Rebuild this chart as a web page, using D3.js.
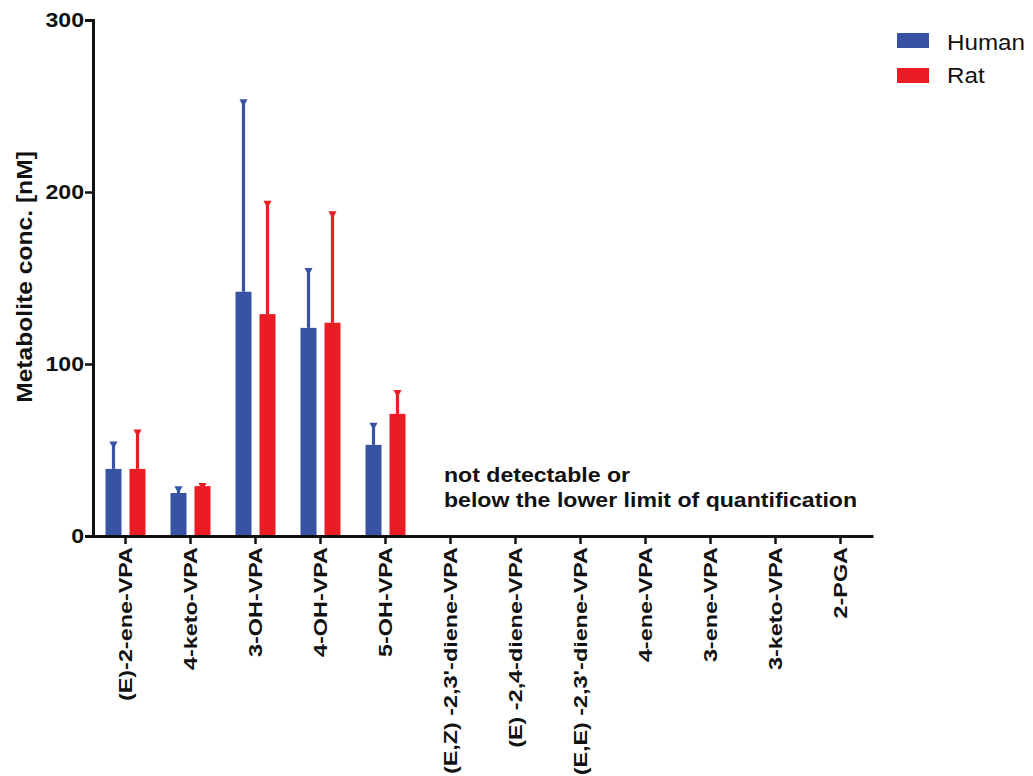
<!DOCTYPE html>
<html>
<head>
<meta charset="utf-8">
<script src="https://cdn.jsdelivr.net/npm/d3@7"></script>
<style>
  html, body { margin: 0; padding: 0; background: #fff; }
  svg { display: block; font-family: "Liberation Sans", Arial, sans-serif; }
</style>
</head>
<body>
<svg id="chart" width="1033" height="776"></svg>
<script>
// Metabolite categories (x axis)
const categories = [
  "(E)-2-ene-VPA", "4-keto-VPA", "3-OH-VPA", "4-OH-VPA", "5-OH-VPA",
  "(E,Z) -2,3'-diene-VPA", "(E) -2,4-diene-VPA", "(E,E) -2,3'-diene-VPA",
  "4-ene-VPA", "3-ene-VPA", "3-keto-VPA", "2-PGA"
];
const series = ["Human", "Rat"];
// Mean concentrations [nM]; null = not detectable / below LLOQ
const humanMean = [39, 25, 142, 121, 53, null, null, null, null, null, null, null];
const ratMean   = [39, 29, 129, 124, 71, null, null, null, null, null, null, null];
// Upper error bar ends (mean + SD) [nM]
const humanUpper = [54, 28, 253, 155, 65, null, null, null, null, null, null, null];
const ratUpper   = [61, 30, 194, 188, 84, null, null, null, null, null, null, null];
const yTicks = [0, 100, 200, 300];
const colors = { Human: "#3953a4", Rat: "#ec1c24" };

const svg = d3.select("#chart");
const x = d3.scaleBand().domain(categories).range([93, 873]);
const y = d3.scaleLinear().domain([0, 300]).range([536, 20]);
const barW = 16, inner = 4;

const rows = [];
categories.forEach((c, i) => {
  if (humanMean[i] != null) rows.push({ c, s: "Human", v: humanMean[i], u: humanUpper[i], off: -inner - barW });
  if (ratMean[i] != null) rows.push({ c, s: "Rat", v: ratMean[i], u: ratUpper[i], off: inner });
});

// Error bars (upper only)
const eb = svg.append("g");
rows.forEach(d => {
  const cx = x(d.c) + x.bandwidth() / 2 + d.off + barW / 2;
  eb.append("line").attr("x1", cx).attr("x2", cx)
    .attr("y1", y(d.v)).attr("y2", y(d.u))
    .attr("stroke", colors[d.s]).attr("stroke-width", 3.2);
  eb.append("path")
    .attr("d", `M${cx - 4},${y(d.u) - 1.5}L${cx + 4},${y(d.u) - 1.5}L${cx + 2},${y(d.u) + 2.5}L${cx - 2},${y(d.u) + 2.5}Z`)
    .attr("fill", colors[d.s]);
});

// Bars
svg.append("g").selectAll("rect").data(rows).join("rect")
  .attr("x", d => x(d.c) + x.bandwidth() / 2 + d.off)
  .attr("y", d => y(d.v))
  .attr("width", barW)
  .attr("height", d => y(0) - y(d.v))
  .attr("fill", d => colors[d.s]);

// Y axis
const yAxis = svg.append("g").attr("transform", "translate(93,0)")
  .call(d3.axisLeft(y).tickValues(yTicks).tickSize(8));
yAxis.select(".domain").attr("stroke", "#111").attr("stroke-width", 3);
yAxis.selectAll(".tick line").attr("stroke", "#111").attr("stroke-width", 2.5);
yAxis.selectAll(".tick text").attr("fill", "#111")
  .style("font-size", "21px").style("font-weight", "bold")
  .attr("x", -8.2)
  .attr("transform", "scale(1.1,1)");

// X axis
const xAxis = svg.append("g").attr("transform", "translate(0,536)")
  .call(d3.axisBottom(x).tickSize(8).tickSizeOuter(0));
xAxis.select(".domain").attr("stroke", "#111").attr("stroke-width", 3);
xAxis.selectAll(".tick line").attr("stroke", "#111").attr("stroke-width", 2.5);
xAxis.selectAll(".tick text").attr("fill", "#111")
  .style("font-size", "19px").style("font-weight", "bold")
  .attr("text-anchor", "end")
  .attr("transform", "rotate(-90) scale(1.23,1)")
  .attr("x", -9).attr("y", 0).attr("dy", "0.35em");

// Y axis title
svg.append("text")
  .attr("transform", "translate(32,277) rotate(-90) scale(1.12,1)")
  .attr("text-anchor", "middle")
  .attr("fill", "#111")
  .style("font-size", "22px").style("font-weight", "bold")
  .text("Metabolite conc. [nM]");

// Annotation for non-quantified metabolites
const note = svg.append("text").attr("fill", "#111")
  .attr("transform", "translate(444,0) scale(1.1,1)")
  .style("font-size", "21px").style("font-weight", "bold");
note.append("tspan").attr("x", 0).attr("y", 482).text("not detectable or");
note.append("tspan").attr("x", 0).attr("y", 507).text("below the lower limit of quantification");

// Legend
const legend = svg.append("g");
series.forEach((s, i) => {
  legend.append("rect").attr("x", 897).attr("y", 33 + i * 35)
    .attr("width", 32).attr("height", 15).attr("fill", colors[s]);
  legend.append("text")
    .attr("transform", `translate(947,${50 + i * 33}) scale(1.1,1)`)
    .attr("fill", "#111").style("font-size", "22px").text(s);
});
</script>
</body>
</html>
